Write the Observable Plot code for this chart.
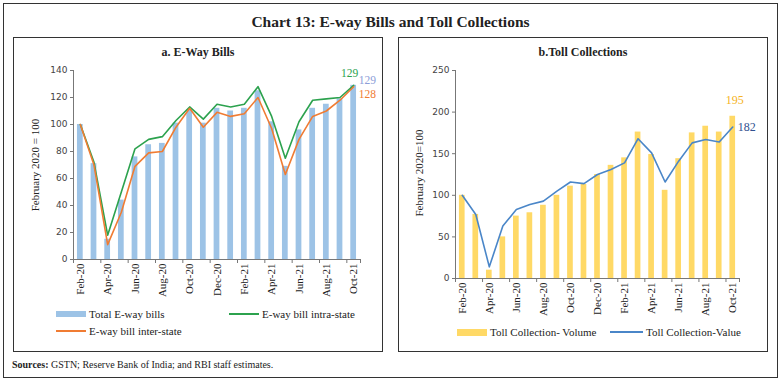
<!DOCTYPE html>
<html>
<head>
<meta charset="utf-8">
<script src="https://cdn.jsdelivr.net/npm/d3@7"></script>
<script src="https://cdn.jsdelivr.net/npm/@observablehq/plot@0.6"></script>
<style>
  html, body { margin: 0; padding: 0; background: #fff; }
  #wrap { position: relative; width: 781px; height: 381px; overflow: hidden; font-family: "Liberation Serif", serif; color: #222; }
  .box { position: absolute; box-sizing: border-box; border: 1px solid #333; }
  .abs { position: absolute; white-space: nowrap; }
  .ytitle { position: absolute; white-space: nowrap; font-size: 11px; color: #222; transform: translate(-50%, -50%) rotate(-90deg); }
  .leg { position: absolute; white-space: nowrap; font-size: 11px; color: #222; line-height: 12px; }
  .sw { position: absolute; }
</style>
</head>
<body>
<div id="wrap">
  <div class="box" style="left:3px;top:3px;width:775px;height:375px;"></div>
  <div class="box" style="left:13px;top:37px;width:370px;height:315px;"></div>
  <div class="box" style="left:398px;top:37px;width:370px;height:315px;"></div>
  <div class="abs" style="left:0;width:781px;top:13px;text-align:center;font-size:15.5px;font-weight:bold;">Chart 13: E-way Bills and Toll Collections</div>
  <div class="abs" style="left:13px;width:370px;top:45px;text-align:center;font-size:12px;font-weight:bold;">a. E-Way Bills</div>
  <div class="abs" style="left:398px;width:370px;top:45px;text-align:center;font-size:12px;font-weight:bold;">b.Toll Collections</div>
  <div class="ytitle" style="left:35px;top:165px;">February 2020 = 100</div>
  <div class="ytitle" style="left:419px;top:173px;">February 2020=100</div>
  <div id="left" class="abs" style="left:13px;top:60px;"></div>
  <div id="right" class="abs" style="left:398px;top:60px;"></div>

  <div class="sw" style="left:56px;top:311px;width:30px;height:6px;background:#9dc3e6;"></div>
  <div class="leg" style="left:89px;top:308px;">Total E-way bills</div>
  <div class="sw" style="left:229px;top:313px;width:30px;height:2px;background:#2ca24e;"></div>
  <div class="leg" style="left:262px;top:308px;">E-way bill intra-state</div>
  <div class="sw" style="left:56px;top:330px;width:30px;height:2px;background:#f07c33;"></div>
  <div class="leg" style="left:89px;top:325px;">E-way bill inter-state</div>

  <div class="sw" style="left:457px;top:329px;width:30px;height:7px;background:#ffd966;"></div>
  <div class="leg" style="left:490px;top:326px;">Toll Collection- Volume</div>
  <div class="sw" style="left:610px;top:331px;width:33px;height:2px;background:#4a86c8;"></div>
  <div class="leg" style="left:646px;top:326px;">Toll Collection-Value</div>

  <div class="abs" style="left:12px;top:359px;font-size:10px;"><b>Sources:</b> GSTN; Reserve Bank of India; and RBI staff estimates.</div>
</div>
<script>
const months = ["Feb-20","Mar-20","Apr-20","May-20","Jun-20","Jul-20","Aug-20","Sep-20","Oct-20","Nov-20","Dec-20",
                "Jan-21","Feb-21","Mar-21","Apr-21","May-21","Jun-21","Jul-21","Aug-21","Sep-21","Oct-21"];
const ewayTotal = [100, 71, 15, 44, 76, 85, 86, 101, 111, 101, 112, 110, 112, 125, 102, 69, 96, 112, 115, 119, 129];
const ewayIntra = [100, 72, 18, 50, 82, 89, 91, 103, 113, 104, 115, 113, 115, 128, 106, 75, 102, 118, 119, 120, 129];
const ewayInter = [100, 70, 11, 35, 69, 79, 80, 98, 112, 98, 109, 106, 108, 120, 97, 63, 89, 106, 110, 118, 128];
const tollVolume = [100, 77, 10, 50, 75, 79, 88, 100, 111, 113, 125, 136, 145, 176, 149, 106, 144, 175, 183, 176, 195];
const tollValue  = [100, 77, 14, 63, 83, 89, 93, 105, 116, 114, 125, 131, 139, 168, 151, 116, 141, 163, 167, 164, 182];
const eTicks = [0, 20, 40, 60, 80, 100, 120, 140];
const tTicks = [0, 50, 100, 150, 200, 250];

const idx = months.map((m, i) => i);
const labelIdx = idx.filter(i => i % 2 === 0);
const boundaries = [-0.5, ...idx.filter(i => i % 2 === 1).map(i => i + 0.5), months.length - 0.5];
const half = 0.21;

const eRows = months.map((m, i) => ({i, m, total: ewayTotal[i], intra: ewayIntra[i], inter: ewayInter[i]}));
const tRows = months.map((m, i) => ({i, m, vol: tollVolume[i], val: tollValue[i]}));
const eLast = eRows[eRows.length - 1];
const tLast = tRows[tRows.length - 1];

const tickFont = "DejaVu Sans";
const serif = "Liberation Serif";

function xAxes() {
  return [
    Plot.axisX({ticks: boundaries, tickFormat: () => "", tickSize: 4, stroke: "#777", label: null}),
    Plot.axisX({ticks: labelIdx, tickFormat: i => months[i], tickSize: 0, tickRotate: -90, tickPadding: 4,
                fontFamily: serif, fontSize: 11, fill: "#222", label: null})
  ];
}

const left = Plot.plot({
  width: 369, height: 245,
  marginLeft: 60, marginRight: 22, marginTop: 10, marginBottom: 46,
  x: {type: "linear", domain: [-0.5, months.length - 0.5], axis: null, label: null},
  y: {domain: [0, 140], axis: null, label: null},
  marks: [
    Plot.rectY(eRows, {x1: d => d.i - half, x2: d => d.i + half, y1: 0, y2: "total", fill: "#9dc3e6"}),
    Plot.lineY(eRows, {x: "i", y: "intra", stroke: "#2ca24e", strokeWidth: 1.6}),
    Plot.lineY(eRows, {x: "i", y: "inter", stroke: "#f07c33", strokeWidth: 1.6}),
    Plot.ruleY([0], {stroke: "#777"}),
    Plot.ruleX([-0.5], {stroke: "#777"}),
    Plot.axisY({ticks: eTicks, tickSize: 3, tickPadding: 3, fontFamily: tickFont, fontSize: 9, fill: "#444", stroke: "#777", label: null}),
    ...xAxes(),
    Plot.text([eLast], {x: "i", y: "intra", text: d => String(d.intra), fill: "#2ca24e", dx: -4, dy: -12, fontFamily: serif, fontSize: 11.5}),
    Plot.text([eLast], {x: "i", y: "total", text: d => String(d.total), fill: "#8c9ed8", dx: 5, dy: -5, textAnchor: "start", fontFamily: serif, fontSize: 11.5}),
    Plot.text([eLast], {x: "i", y: "inter", text: d => String(d.inter), fill: "#f07c33", dx: 5, dy: 8, textAnchor: "start", fontFamily: serif, fontSize: 11.5})
  ]
});
document.getElementById("left").appendChild(left);

const right = Plot.plot({
  width: 369, height: 265,
  marginLeft: 57, marginRight: 28, marginTop: 10, marginBottom: 47,
  x: {type: "linear", domain: [-0.5, months.length - 0.5], axis: null, label: null},
  y: {domain: [0, 250], axis: null, label: null},
  marks: [
    Plot.rectY(tRows, {x1: d => d.i - half, x2: d => d.i + half, y1: 0, y2: "vol", fill: "#ffd966"}),
    Plot.lineY(tRows, {x: "i", y: "val", stroke: "#4a86c8", strokeWidth: 1.6}),
    Plot.ruleY([0], {stroke: "#777"}),
    Plot.ruleX([-0.5], {stroke: "#777"}),
    Plot.axisY({ticks: tTicks, tickSize: 3, tickPadding: 3, fontFamily: tickFont, fontSize: 9, fill: "#444", stroke: "#777", label: null}),
    ...xAxes(),
    Plot.text([tLast], {x: "i", y: "vol", text: d => String(d.vol), fill: "#f5b323", dx: 2, dy: -16, fontFamily: serif, fontSize: 12}),
    Plot.text([tLast], {x: "i", y: "val", text: d => String(d.val), fill: "#2f4f8f", dx: 5, dy: 0, textAnchor: "start", fontFamily: serif, fontSize: 12})
  ]
});
document.getElementById("right").appendChild(right);
</script>
</body>
</html>
